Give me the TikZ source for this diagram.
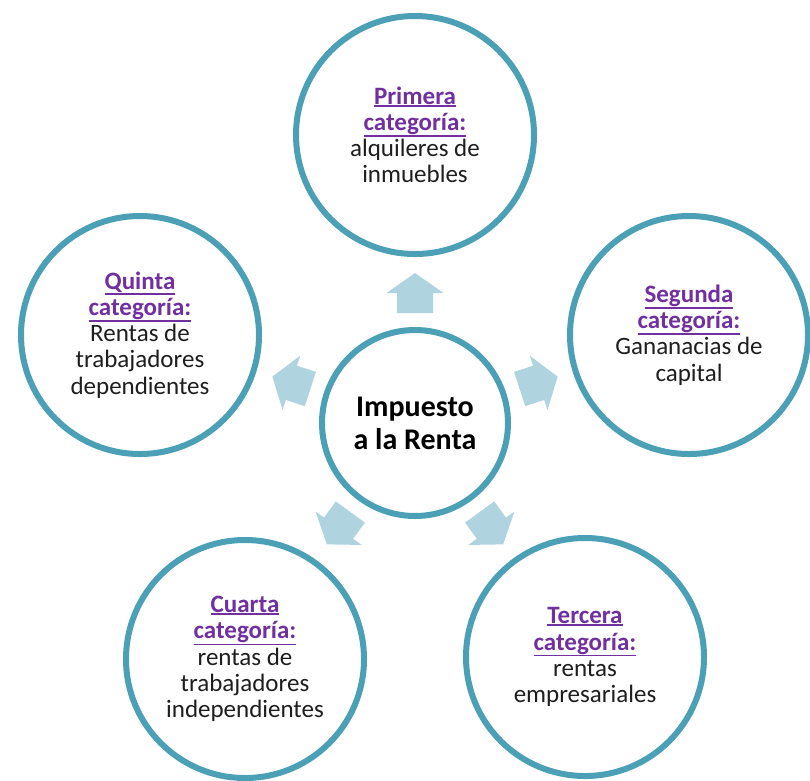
\documentclass[tikz,border=0pt]{standalone}
\usepackage{fontspec}
\setmainfont{Carlito}
\usetikzlibrary{calc}
\definecolor{ring}{RGB}{75,160,182}
\definecolor{arrowfill}{RGB}{176,211,224}
\definecolor{catpurple}{RGB}{112,48,160}
\definecolor{txt}{RGB}{30,30,30}
\newcommand{\cathead}[1]{{\color{catpurple}\bfseries\setbox0\hbox{#1}%
  \rlap{\rule[-\dimexpr\dp0+2.2pt\relax]{\wd0}{1.8pt}}\box0}}
\begin{document}
\begin{tikzpicture}[x=1pt,y=-1pt,
  ringbig/.style={circle, draw=ring, line width=6pt, fill=white, minimum size=238pt, inner sep=0pt,
    align=center, text=txt, font=\fontsize{25}{26.2}\selectfont},
  ringcenter/.style={circle, draw=ring, line width=6pt, fill=white, minimum size=186pt, inner sep=0pt,
    align=center, text=black, font=\fontsize{30}{33}\selectfont\bfseries},
  blockarrow/.style={fill=arrowfill, draw=none}
]
\useasboundingbox (0,0) rectangle (810,780);
\node[ringcenter] (c) at (415,423) {Impuesto\\a la Renta};

\foreach \ang in {0,72,144,216,288}{
  \begin{scope}[shift={(c.center)}, rotate=\ang]
    \path[blockarrow] (-18,-110) -- (18,-110) -- (18,-130) -- (28.5,-130) -- (0,-150)
      -- (-28.5,-130) -- (-18,-130) -- cycle;
  \end{scope}
}

\node[ringbig] (p1) at (415,135) {\cathead{Primera}\\\cathead{categoría:}\\alquileres de\\inmuebles};
\node[ringbig] (p2) at (689,335) {\cathead{Segunda}\\\cathead{categoría:}\\Gananacias de\\capital};
\node[ringbig] (p3) at (585,657) {\cathead{Tercera}\\\cathead{categoría:}\\rentas\\empresariales};
\node[ringbig] (p4) at (245,659) {\cathead{Cuarta}\\\cathead{categoría:}\\rentas de\\trabajadores\\independientes};
\node[ringbig] (p5) at (140,335) {\cathead{Quinta}\\\cathead{categoría:}\\Rentas de\\trabajadores\\dependientes};
\end{tikzpicture}
\end{document}
